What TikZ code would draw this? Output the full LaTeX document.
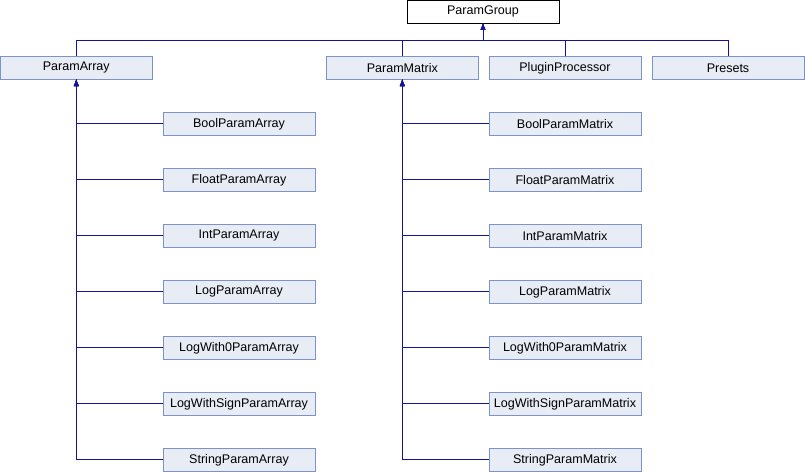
\documentclass[tikz,border=0pt]{standalone}
\usepackage{fontspec}
\setmainfont{Liberation Sans}
\usepackage{tikz}
\usetikzlibrary{arrows}
\usetikzlibrary{positioning}
\usetikzlibrary{calc}
\definecolor{clsfill}{HTML}{E8ECF5}
\definecolor{clsdraw}{HTML}{7C93C9}
\definecolor{inh}{HTML}{12129A}

\begin{document}
\begin{tikzpicture}[
  x=0.75pt, y=-0.75pt,
  dep/.style ={
    -latex,line width=0.75pt,draw=inh
  },
  cls/.style={
    rectangle,
    draw=clsdraw,
    fill=clsfill,
    line width=0.75pt,
    minimum width=114pt,
    minimum height=17.25pt,
    inner sep=0pt,
    outer sep=0pt,
    font=\fontsize{9.4}{11}\selectfont},
  base/.style={
    cls,
    draw=black,
    fill=white},
]

  \def\stepsize{56}%
  \def\lvlbase{123.8}%
  \def\toprow{67.8}%

  \useasboundingbox (0,0) rectangle (805,472);

        \node[base] (group) at (483, 11.5) {ParamGroup};

        \node[cls] (array) at (76.3, \toprow) {ParamArray};
        \node[cls] (matrix) at (402.3, \toprow) {ParamMatrix};
        \node[cls] (plugin) at (565, \toprow) {PluginProcessor};
        \node[cls] (presets) at (728, \toprow) {Presets};

        \coordinate (bus) at (483, 40.3);

        \draw[dep] (array.north) |- (bus) -- (group.south);
        \draw[dep] (matrix.north) |- (bus) -- (group.south);
        \draw[dep] (plugin.north) |- (bus) -- (group.south);
        \draw[dep] (presets.north) |- (bus) -- (group.south);

    \foreach \kind [count=\i from 0] in
        {Bool,Float,Int,Log,LogWith0,LogWithSign,String} {
        \node[cls] (array_\i)
            at (239, \lvlbase + \i*\stepsize) {\kind ParamArray};
        \node[cls] (matrix_\i)
            at (565, \lvlbase + \i*\stepsize) {\kind ParamMatrix};
        \draw[dep] (array_\i.west) -| (array.south);
        \draw[dep] (matrix_\i.west) -| (matrix.south);
    }

\end{tikzpicture}
\end{document}
